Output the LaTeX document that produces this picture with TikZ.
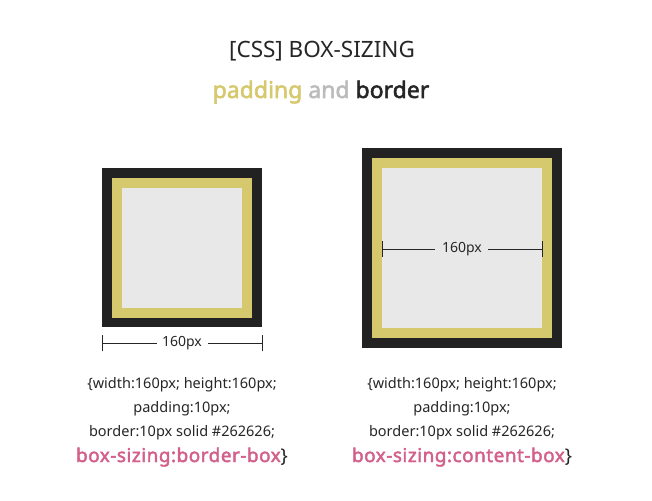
\documentclass[tikz,border=0pt]{standalone}
\usepackage{fontspec}
\setmainfont{Noto Sans}[AutoFakeBold=2.2]
\definecolor{bord}{HTML}{222222}
\definecolor{pad}{HTML}{D6C86C}
\definecolor{cont}{HTML}{E8E8E8}
\definecolor{grayw}{HTML}{BBBBBB}
\definecolor{pinkt}{HTML}{D2608A}
\definecolor{txt}{HTML}{262626}
\tikzset{
  fillbox/.style={draw=none,fill=#1},
  dimline/.style={draw=txt,line width=0.9pt},
  dimlabel/.style={font=\fontsize{14}{16}\selectfont,text=txt,inner sep=1pt},
  codeline/.style={font=\fontsize{14.5}{16}\selectfont,text=txt,inner sep=0pt,anchor=base},
  keyline/.style={font=\fontsize{19}{20}\selectfont\bfseries\addfontfeature{LetterSpace=2.5},inner sep=0pt,anchor=base},
}
\begin{document}
\begin{tikzpicture}[x=1pt,y=-1pt]
\useasboundingbox[fill=white] (0,0) rectangle (652,500);
% title
\node[font=\fontsize{22.5}{26}\selectfont,text=txt,anchor=base] (title) at (322,58) {[CSS] BOX-SIZING};
\node[font=\fontsize{23}{26}\selectfont\bfseries,anchor=base] (sub) at (321,98) {\textcolor{pad}{padding} \textcolor{grayw}{and} \textcolor{txt}{border}};
% left box
\fill[bord] (102,168) rectangle (262,327);
\fill[pad] (112,178) rectangle (252,318);
\fill[cont] (122,188) rectangle (242,308);
\node[dimlabel] (lbl) at (182,343) {160px};
\coordinate (la) at (102,343);
\coordinate (lb) at (262,343);
\draw[dimline] ([yshift=-8]la) -- ([yshift=8]la);
\draw[dimline] ([yshift=-8]lb) -- ([yshift=8]lb);
\draw[dimline] (la) -- (157,343);
\draw[dimline] (208,343) -- (lb);
% right box
\fill[bord] (362,148) rectangle (562,348);
\fill[pad] (372,158) rectangle (552,338);
\fill[cont] (382,168) rectangle (542,328);
\node[dimlabel] (rlbl) at (462,249) {160px};
\coordinate (ra) at (382,249);
\coordinate (rb) at (542,249);
\draw[dimline] ([yshift=-8]ra) -- ([yshift=8]ra);
\draw[dimline] ([yshift=-8]rb) -- ([yshift=8]rb);
\draw[dimline] (ra) -- (435,249);
\draw[dimline] (488,249) -- (rb);
% left code
\node[codeline] (l1) at (182,388) {\{width:160px; height:160px;};
\node[codeline] (l2) at (182,412) {padding:10px;};
\node[codeline] (l3) at (182,436) {border:10px solid \#262626;};
\node[keyline] (l4) at (182,462) {\textcolor{pinkt}{box-sizing:border-box}\textcolor{txt}{\mdseries\}}};
% right code
\node[codeline] (r1) at (462,388) {\{width:160px; height:160px;};
\node[codeline] (r2) at (462,412) {padding:10px;};
\node[codeline] (r3) at (462,436) {border:10px solid \#262626;};
\node[keyline] (r4) at (462,462) {\textcolor{pinkt}{box-sizing:content-box}\textcolor{txt}{\mdseries\}}};
\end{tikzpicture}
\end{document}
